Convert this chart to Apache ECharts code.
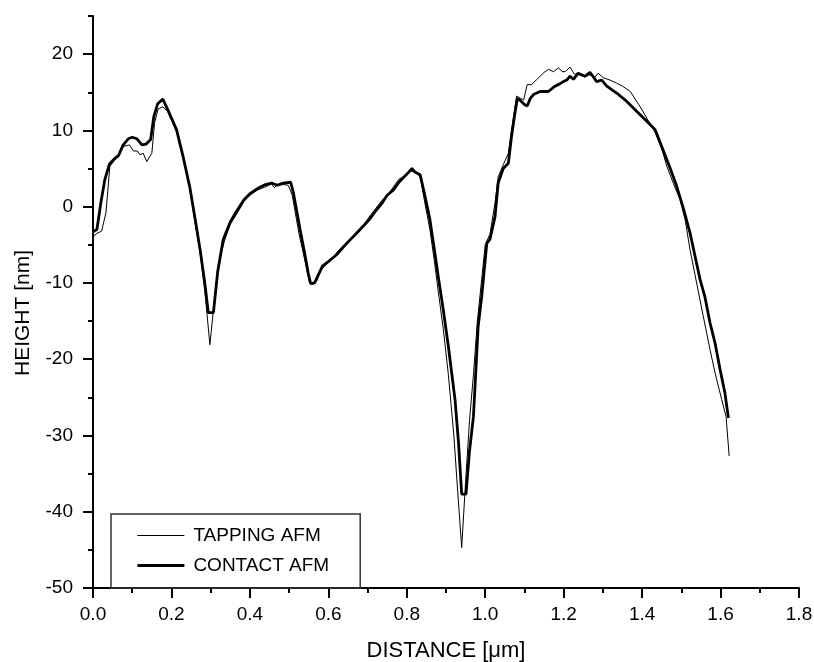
<!DOCTYPE html>
<html lang="en" style="height: 100%">
<head>
  <meta charset="utf-8">
</head>
<body style="height: 100%; margin: 0; background: #fff">
<div id="container" style="width: 814px; height: 662px"></div>

<script type="text/javascript" src="https://fastly.jsdelivr.net/npm/echarts@6/dist/echarts.min.js"></script>
<script type="text/javascript">
  // AFM line profiles (distance in um, height in nm)
  var tappingX = [0.000, 0.010, 0.022, 0.033, 0.043, 0.060, 0.077, 0.093, 0.103, 0.113, 0.120, 0.128, 0.137, 0.150, 0.157, 0.166, 0.178, 0.190, 0.213, 0.230, 0.247, 0.260, 0.273, 0.285, 0.298, 0.310, 0.320, 0.335, 0.350, 0.366, 0.385, 0.400, 0.420, 0.440, 0.455, 0.462, 0.470, 0.485, 0.498, 0.508, 0.525, 0.540, 0.552, 0.560, 0.570, 0.579, 0.595, 0.610, 0.625, 0.640, 0.655, 0.672, 0.690, 0.706, 0.720, 0.736, 0.750, 0.766, 0.780, 0.795, 0.810, 0.820, 0.834, 0.846, 0.859, 0.870, 0.880, 0.893, 0.906, 0.920, 0.930, 0.940, 0.950, 0.960, 0.970, 0.980, 0.991, 1.000, 1.012, 1.025, 1.033, 1.046, 1.059, 1.067, 1.080, 1.090, 1.098, 1.107, 1.118, 1.130, 1.140, 1.150, 1.161, 1.174, 1.187, 1.196, 1.204, 1.216, 1.227, 1.240, 1.254, 1.267, 1.278, 1.288, 1.301, 1.318, 1.335, 1.350, 1.370, 1.395, 1.420, 1.433, 1.450, 1.463, 1.480, 1.497, 1.510, 1.522, 1.539, 1.556, 1.573, 1.586, 1.603, 1.614, 1.622];
  var tappingY = [-3.9, -3.5, -3.2, -0.8, 5.3, 6.4, 7.9, 8.1, 7.3, 7.3, 6.8, 7.0, 5.9, 7.0, 11.0, 12.8, 13.1, 12.5, 9.8, 6.3, 2.3, -2.0, -6.0, -11.0, -18.1, -12.0, -7.5, -4.5, -2.3, -1.0, 0.7, 1.5, 2.2, 2.6, 3.0, 2.5, 2.8, 2.9, 2.8, 1.5, -3.5, -7.0, -10.0, -10.2, -9.8, -8.5, -7.5, -6.8, -5.8, -5.0, -4.4, -3.5, -2.4, -1.2, -0.3, 0.8, 1.4, 2.6, 3.6, 4.0, 4.7, 4.5, 4.0, 0.5, -3.0, -7.0, -11.0, -16.0, -22.0, -30.0, -37.5, -44.7, -36.0, -28.0, -22.0, -15.0, -9.5, -5.0, -3.6, 0.5, 3.9, 5.5, 7.0, 10.0, 14.5, 14.2, 14.0, 16.0, 16.0, 16.6, 17.1, 17.6, 18.0, 17.7, 18.2, 17.7, 17.7, 18.3, 17.4, 17.3, 17.0, 17.3, 16.9, 17.5, 16.9, 16.6, 16.2, 15.8, 15.1, 13.1, 10.9, 9.8, 7.6, 5.3, 3.0, 0.9, -1.8, -5.6, -10.0, -14.4, -18.7, -21.8, -25.3, -27.5, -32.7];

  var contactX = [0.000, 0.010, 0.020, 0.030, 0.042, 0.055, 0.065, 0.077, 0.090, 0.100, 0.112, 0.125, 0.135, 0.147, 0.155, 0.165, 0.178, 0.190, 0.213, 0.230, 0.247, 0.260, 0.273, 0.285, 0.294, 0.307, 0.318, 0.332, 0.350, 0.366, 0.385, 0.400, 0.420, 0.440, 0.455, 0.470, 0.485, 0.504, 0.511, 0.528, 0.540, 0.549, 0.555, 0.565, 0.585, 0.600, 0.621, 0.640, 0.664, 0.690, 0.706, 0.720, 0.736, 0.750, 0.766, 0.780, 0.791, 0.803, 0.813, 0.822, 0.834, 0.846, 0.859, 0.870, 0.880, 0.893, 0.906, 0.923, 0.932, 0.940, 0.951, 0.960, 0.970, 0.982, 0.991, 1.004, 1.012, 1.025, 1.033, 1.046, 1.059, 1.067, 1.075, 1.082, 1.090, 1.100, 1.107, 1.115, 1.123, 1.140, 1.161, 1.178, 1.190, 1.199, 1.208, 1.216, 1.225, 1.237, 1.254, 1.267, 1.276, 1.284, 1.297, 1.310, 1.335, 1.361, 1.386, 1.412, 1.433, 1.450, 1.471, 1.488, 1.505, 1.522, 1.535, 1.548, 1.560, 1.573, 1.586, 1.599, 1.611, 1.620];
  var contactY = [-3.3, -3.0, 0.5, 3.5, 5.6, 6.3, 6.7, 8.1, 8.9, 9.1, 8.9, 8.1, 8.2, 8.8, 11.8, 13.5, 14.1, 12.8, 10.1, 6.5, 2.5, -1.5, -5.6, -10.0, -13.9, -13.9, -8.5, -4.3, -2.0, -0.6, 0.9, 1.7, 2.4, 2.9, 3.1, 2.8, 3.1, 3.2, 1.8, -3.0, -6.2, -8.8, -10.1, -10.0, -7.8, -7.2, -6.3, -5.2, -3.9, -2.5, -1.6, -0.6, 0.4, 1.5, 2.2, 3.2, 3.8, 4.4, 5.0, 4.5, 4.2, 1.5, -1.7, -5.5, -9.1, -13.5, -18.3, -25.3, -31.0, -37.7, -37.7, -32.0, -27.5, -15.7, -11.8, -4.8, -4.3, -1.3, 3.1, 5.0, 5.7, 9.2, 12.0, 14.2, 13.9, 13.4, 13.2, 14.2, 14.7, 15.1, 15.1, 15.8, 16.1, 16.4, 16.6, 17.1, 16.7, 17.5, 17.1, 17.6, 17.0, 16.4, 16.6, 15.8, 14.9, 13.8, 12.5, 11.2, 10.1, 7.9, 5.1, 2.7, -0.2, -3.4, -6.5, -9.6, -11.8, -15.2, -17.9, -21.4, -24.4, -27.7];

  var yMajorTicks = [-50, -40, -30, -20, -10, 0, 10, 20];
  var yMinorTicks = [-45, -35, -25, -15, -5, 5, 15, 25];

  function pairs(xs, ys) {
    return xs.map(function (x, i) { return [x, ys[i]]; });
  }

  var dom = document.getElementById('container');
  var myChart = echarts.init(dom, null, { renderer: 'canvas' });

  var font = 'Arial, "Liberation Sans", sans-serif';
  var axisLine = { show: true, onZero: false, lineStyle: { color: '#000', width: 2 } };

  var option = {
    backgroundColor: '#fff',
    animation: false,
    grid: { left: 93, right: 15, top: 16, bottom: 74, outerBoundsMode: 'none' },
    legend: {
      orient: 'vertical',
      left: 111,
      top: 514,
      padding: [12, 31, 13, 25],
      itemWidth: 47,
      itemHeight: 14,
      itemGap: 11,
      borderColor: '#333',
      borderWidth: 1.5,
      borderRadius: 0,
      itemStyle: { opacity: 0 },
      lineStyle: { width: 'inherit' },
      textStyle: { color: '#000', fontFamily: font, fontSize: 19, padding: [0, 0, 0, 4] },
      data: ['TAPPING AFM', 'CONTACT AFM']
    },
    xAxis: {
      type: 'value',
      min: 0,
      max: 1.8,
      interval: 0.2,
      name: 'DISTANCE [\u03bcm]',
      nameLocation: 'middle',
      nameGap: 52,
      nameTextStyle: { color: '#000', fontFamily: font, fontSize: 22 },
      axisLine: axisLine,
      axisTick: { show: true, inside: false, length: 10, lineStyle: { color: '#000', width: 2 } },
      minorTick: { show: true, splitNumber: 2, length: 5, lineStyle: { color: '#000', width: 2 } },
      axisLabel: {
        color: '#000', fontFamily: font, fontSize: 19, margin: 17,
        formatter: function (v) { return v.toFixed(1); }
      },
      splitLine: { show: false }
    },
    yAxis: [
      {
        type: 'value',
        position: 'left',
        min: -50,
        max: 25,
        interval: 10,
        name: 'HEIGHT [nm]',
        nameLocation: 'middle',
        nameGap: 59,
        nameTextStyle: { color: '#000', fontFamily: font, fontSize: 21, padding: [0, 22, 0, 0] },
        axisLine: axisLine,
        axisTick: { show: true, inside: false, length: 10, customValues: yMajorTicks, lineStyle: { color: '#000', width: 2 } },
        axisLabel: { color: '#000', fontFamily: font, fontSize: 19, margin: 20, customValues: yMajorTicks },
        splitLine: { show: false }
      },
      {
        type: 'value',
        position: 'left',
        offset: 0,
        min: -50,
        max: 25,
        interval: 5,
        axisLine: { show: false },
        axisTick: { show: true, inside: false, length: 5, customValues: yMinorTicks, lineStyle: { color: '#000', width: 2 } },
        axisLabel: { show: false },
        splitLine: { show: false }
      }
    ],
    series: [
      {
        name: 'TAPPING AFM',
        type: 'line',
        symbol: 'none',
        lineStyle: { color: '#000', width: 1 },
        itemStyle: { color: '#000' },
        data: pairs(tappingX, tappingY)
      },
      {
        name: 'CONTACT AFM',
        type: 'line',
        symbol: 'none',
        lineStyle: { color: '#000', width: 2.8 },
        itemStyle: { color: '#000' },
        data: pairs(contactX, contactY)
      }
    ]
  };

  myChart.setOption(option);
  window.addEventListener('resize', myChart.resize);
</script>
</body>
</html>
